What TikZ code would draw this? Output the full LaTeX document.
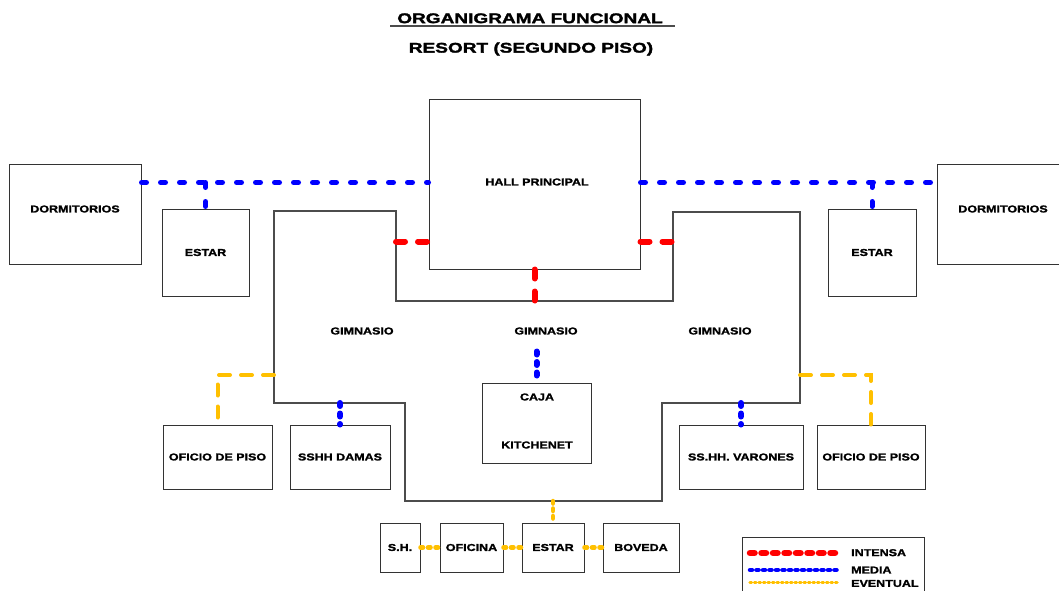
\documentclass[tikz,border=0pt]{standalone}
\usepackage{fontspec}
\setmainfont{Liberation Sans}
\newfontfamily\lblfont[FakeStretch=1.25,FakeBold=1.6]{Liberation Sans}
\newfontfamily\ttlfont[FakeStretch=1.36,FakeBold=2]{Liberation Sans}
\definecolor{amber}{RGB}{255,192,0}
\begin{document}
\begin{tikzpicture}[x=1pt,y=-1pt,
  box/.style={draw=black!80, line width=1pt, inner sep=0pt},
  lbl/.style={inner sep=0pt, font=\lblfont\bfseries\fontsize{10}{12}\selectfont},
  ttl/.style={inner sep=0pt, font=\ttlfont\bfseries\fontsize{14}{16}\selectfont},
  wall/.style={draw=black!70, line width=1.2pt},
  media/.style={draw=blue, line width=5pt, line cap=round, dash pattern=on 5pt off 14pt},
  mediaS/.style={draw=blue, line width=6pt, line cap=round, dash pattern=on 3pt off 7.5pt},
  intensa/.style={draw=red, line width=6pt, line cap=round, dash pattern=on 9pt off 13pt},
  eventual/.style={draw=amber, line width=4pt, line cap=round, dash pattern=on 11pt off 11pt},
  eventualS/.style={draw=amber, line width=4.5pt, line cap=round, dash pattern=on 2.5pt off 5pt},
]
\clip (0,0) rectangle (1059,591);
\fill[white] (0,0) rectangle (1059,591);

% titles
\node[ttl] (t1) at (530,18.3) {ORGANIGRAMA FUNCIONAL};
\coordinate (u1) at (390,25.7);
\coordinate (u2) at (675,25.7);
\draw[black!70, line width=1.8pt] (u1) -- (u2);
\node[ttl] (t2) at (531,49) {RESORT (SEGUNDO PISO)};

% gimnasio outline
\draw[wall] (274,211) -- (396,211) -- (396,301) -- (673,301) -- (673,212) -- (800,212)
  -- (800,403) -- (662,403) -- (662,501) -- (405,501) -- (405,403) -- (274,403) -- cycle;
\coordinate (gymRedL) at (396,241.5);
\coordinate (gymRedR) at (673,241.5);
\coordinate (gymInB) at (535,301);
\coordinate (gymEvL) at (274,375);
\coordinate (gymEvR) at (800,375);
\coordinate (gymBotL) at (274,403);
\coordinate (gymBot) at (405,501);
\node[lbl] (g1) at (362,331) {GIMNASIO};
\node[lbl] (g2) at (546,331) {GIMNASIO};
\node[lbl] (g3) at (720,331) {GIMNASIO};

% boxes
\node[box, minimum width=211pt, minimum height=169pt] (hall) at (534.5,184.5) {};
\node[lbl] (hallt) at (537,182) {HALL PRINCIPAL};
\node[box, minimum width=132pt, minimum height=100pt] (dormL) at (75,214) {};
\node[lbl] (dormLt) at (75,209) {DORMITORIOS};
\node[box, minimum width=132pt, minimum height=100pt] (dormR) at (1003,214) {};
\node[lbl] (dormRt) at (1003,209) {DORMITORIOS};
\node[box, lbl, minimum width=87pt, minimum height=87pt] (estarL) at (205.5,252.5) {ESTAR};
\node[box, lbl, minimum width=88pt, minimum height=87pt] (estarR) at (872,252.5) {ESTAR};
\node[box, minimum width=109pt, minimum height=80pt] (caja) at (536.5,423) {};
\node[lbl] (cajat) at (537,397) {CAJA};
\node[lbl] (kitt) at (537,445) {KITCHENET};
\node[box, lbl, minimum width=109pt, minimum height=64pt] (ofL) at (217.5,457) {OFICIO DE PISO};
\node[box, lbl, minimum width=100pt, minimum height=64pt] (damas) at (340,457) {SSHH DAMAS};
\node[box, lbl, minimum width=124pt, minimum height=64pt] (varones) at (741,457) {SS.HH. VARONES};
\node[box, lbl, minimum width=108pt, minimum height=64pt] (ofR) at (871,457) {OFICIO DE PISO};
\node[box, lbl, minimum width=40pt, minimum height=49pt] (sh) at (400,547.5) {S.H.};
\node[box, lbl, minimum width=63pt, minimum height=49pt] (oficina) at (471.5,547.5) {OFICINA};
\node[box, lbl, minimum width=62pt, minimum height=49pt] (estarB) at (553,547.5) {ESTAR};
\node[box, lbl, minimum width=76pt, minimum height=49pt] (boveda) at (641,547.5) {BOVEDA};

% media (blue)
\coordinate (bL) at ([yshift=-19pt]dormL.north east);
\coordinate (bR) at ([yshift=-19pt]dormR.north west);
\draw[media] (bL) -- (bL -| hall.west);
\draw[media] (estarL.north |- bL) -- (estarL.north);
\draw[media] (bR -| hall.east) -- (bR);
\draw[media] (estarR.north |- bR) -- (estarR.north);
\coordinate (cajaTop) at ([yshift=31pt]caja.north);
\draw[mediaS] (cajaTop) -- (caja.north);
\draw[mediaS] (damas.north |- gymBotL) -- (damas.north);
\draw[mediaS] (varones.north |- gymBotL) -- (varones.north);

% intensa (red)
\draw[intensa] (gymRedL) -- (gymRedL -| hall.west);
\draw[intensa] (gymRedR -| hall.east) -- (gymRedR);
\draw[intensa] (hall.south) -- (hall.south |- gymInB);

% eventual (yellow)
\draw[eventual] (gymEvL) -| (ofL.north);
\draw[eventual] (gymEvR) -| (ofR.north);
\draw[eventualS] (estarB.north |- gymBot) -- (estarB.north);
\draw[eventualS] (sh.east) -- (oficina.west);
\draw[eventualS] (oficina.east) -- (estarB.west);
\draw[eventualS] (estarB.east) -- (boveda.west);

% legend
\node[box, minimum width=182pt, minimum height=64pt] (leg) at (833,569) {};
\coordinate (l1a) at (750,553); \coordinate (l1b) at (840,553);
\coordinate (l2a) at (750,570); \coordinate (l2b) at (840,570);
\coordinate (l3a) at (750,582.5); \coordinate (l3b) at (840,582.5);
\draw[draw=red, line width=6.5pt, line cap=round, dash pattern=on 4.5pt off 7pt] (l1a) -- (l1b);
\draw[draw=blue, line width=4.5pt, line cap=round, dash pattern=on 2pt off 4.5pt] (l2a) -- (l2b);
\draw[draw=amber, line width=3.5pt, line cap=round, dash pattern=on 1.5pt off 3pt] (l3a) -- (l3b);
\node[lbl, anchor=west] (li) at (851,552.7) {INTENSA};
\node[lbl, anchor=west] (lm) at (851,570) {MEDIA};
\node[lbl, anchor=west] (le) at (851,583.5) {EVENTUAL};
\end{tikzpicture}
\end{document}
